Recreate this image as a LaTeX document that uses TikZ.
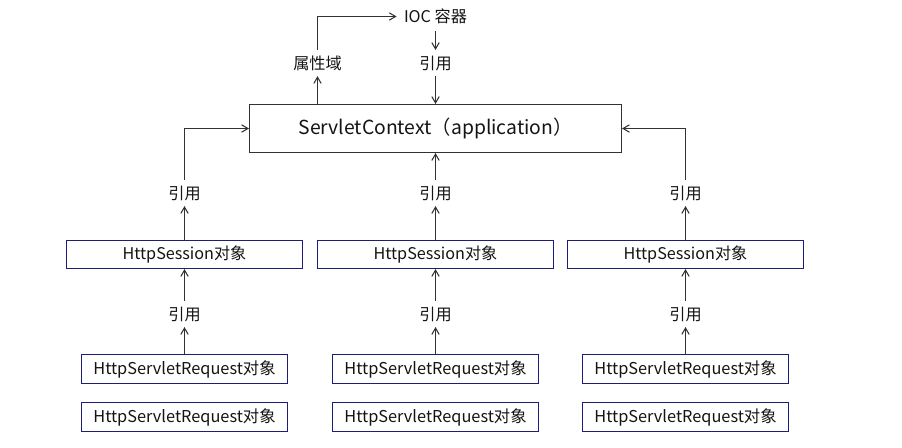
\documentclass[tikz,border=0pt]{standalone}
\usepackage{fontspec}
\setmainfont{Noto Sans CJK SC}
\usetikzlibrary{arrows}
\definecolor{boxnavy}{RGB}{30,30,120}
\definecolor{linegray}{RGB}{50,50,50}
\definecolor{txt}{RGB}{20,20,20}

\begin{document}
\begin{tikzpicture}
[x=0.02cm, y=-0.02cm,
every node/.style = {align=center, text=txt},
>=angle 60]
\tikzstyle{ctxbox} = [rectangle, draw=linegray, line width=0.6pt, minimum width=7.44cm, minimum height=0.96cm, font=\fontsize{11}{13}\selectfont]
\tikzstyle{sessbox} = [rectangle, draw=boxnavy, line width=0.6pt, minimum width=4.72cm, minimum height=0.56cm, inner sep=0pt, font=\fontsize{9.2}{11}\selectfont]
\tikzstyle{reqbox} = [rectangle, draw=boxnavy, line width=0.6pt, minimum width=4.12cm, minimum height=0.58cm, inner sep=0pt, font=\fontsize{9.3}{11}\selectfont]
\tikzstyle{lbl} = [inner sep=3pt, font=\fontsize{9.2}{11}\selectfont]
\tikzstyle{link} = [->, draw=linegray, line width=0.6pt]

\useasboundingbox (0,0) rectangle (902,447);

\node[ctxbox] (ctx) at (435.5,128.5) {ServletContext（application）};
\node[lbl] (attr) at (317.5,63) {属性域};
\node[lbl] (reftop) at (435.5,63) {引用};
\node[lbl, inner sep=4pt] (ioc) at (435.5,16.5) {IOC 容器};

% three session columns
\foreach \x/\n in {184.5/a, 435.5/b, 685.5/c} {
  \node[sessbox] (sess\n) at (\x,254.5) {HttpSession对象};
  \node[lbl] (up\n) at (\x,193) {引用};
  \node[lbl] (down\n) at (\x,314) {引用};
  \node[reqbox] (reqone\n) at (\x,369) {HttpServletRequest对象};
  \node[reqbox] (reqtwo\n) at (\x,417) {HttpServletRequest对象};
  \draw[link] (reqone\n) -- (down\n);
  \draw[link] (down\n) -- (sess\n);
  \draw[link] (sess\n) -- (up\n);
}

\draw[link] (upa.north) |- (ctx.west);
\draw[link] (upb) -- (ctx);
\draw[link] (upc.north) |- (ctx.east);

\draw[link] (attr.south |- ctx.north) -- (attr);
\draw[link] (attr.north) |- (ioc.west);
\draw[link] (ioc) -- (reftop);
\draw[link] (reftop) -- (ctx);

\end{tikzpicture}
\end{document}
